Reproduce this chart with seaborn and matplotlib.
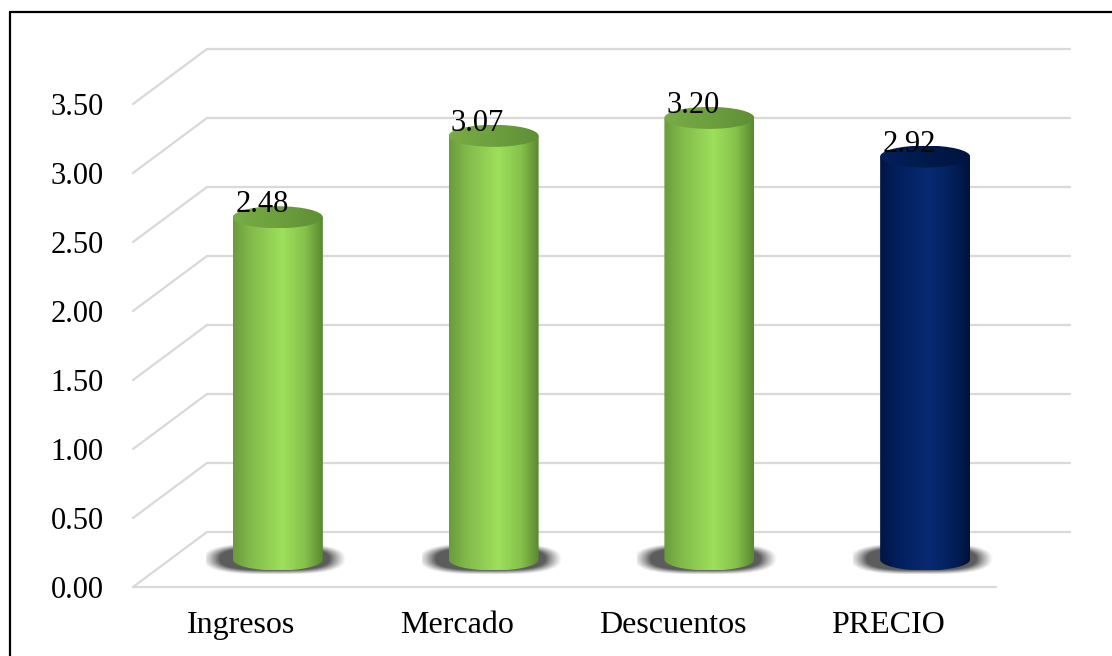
import numpy as np
import matplotlib
matplotlib.use("Agg")
import matplotlib.pyplot as plt
import seaborn as sns
from matplotlib.colors import LinearSegmentedColormap
from matplotlib.patches import PathPatch, Ellipse
from matplotlib.path import Path
from matplotlib.lines import Line2D
from matplotlib.transforms import ScaledTranslation, IdentityTransform

# Data
categories = ["Ingresos", "Mercado", "Descuentos", "PRECIO"]
values = [2.48, 3.07, 3.20, 2.92]
bar_kind = ["dim", "dim", "dim", "total"]
yticks = [0.0, 0.5, 1.0, 1.5, 2.0, 2.5, 3.0, 3.5]

sns.set_theme(style="white")
plt.rcParams["font.family"] = ["Liberation Serif", "DejaVu Serif"]

DPI = 100
fig = plt.figure(figsize=(11.12, 6.56), dpi=DPI)
fig.patch.set_facecolor("white")
ax = fig.add_axes([133 / 1112, 69 / 656, 863 / 1112, 483 / 656])

sns.barplot(x=categories, y=values, width=0.417, color="#92d050", ax=ax,
            errorbar=None)
ax.set_xlim(-0.5, len(categories) - 0.5)
ax.set_ylim(0, 3.5)
ax.set_yticks(yticks)
ax.set_yticklabels([f"{t:.2f}" for t in yticks])
ax.set_xlabel("")
ax.set_ylabel("")
for s in ax.spines.values():
    s.set_visible(False)
ax.set_facecolor("none")
ax.tick_params(axis="both", length=0, colors="black")
ax.tick_params(axis="y", pad=21, labelsize=22)
ax.tick_params(axis="x", pad=17, labelsize=23)
ax.grid(False)

grid_c = "#d9d9d9"
grid_lw = 1.6
# depth offsets (inches): back wall and the middle plane where cylinders stand
back = ScaledTranslation(0.74, 0.55, fig.dpi_scale_trans)
mid = ScaledTranslation(0.37, 0.275, fig.dpi_scale_trans)

# back-wall gridlines
for t in yticks:
    ax.plot([0, 1], [t, t], transform=ax.get_yaxis_transform() + back,
            color=grid_c, lw=grid_lw, clip_on=False, zorder=0)
# front floor edge
ax.plot([0, 1], [0, 0], transform=ax.get_yaxis_transform(),
        color=grid_c, lw=grid_lw, clip_on=False, zorder=0)
# side-wall diagonals
x0 = ax.get_xlim()[0]
for t in yticks:
    p0 = ax.transData.transform((x0, t))
    p1 = p0 + np.array([0.74, 0.55]) * DPI
    fig.add_artist(Line2D([p0[0], p1[0]], [p0[1], p1[1]],
                          transform=IdentityTransform(), color=grid_c,
                          lw=grid_lw, zorder=0))

green_body = LinearSegmentedColormap.from_list(
    "gb", [(0, "#6a9b3c"), (0.18, "#80b84a"), (0.55, "#9de05b"),
           (0.8, "#86c24c"), (1, "#5a8830")])
green_top = LinearSegmentedColormap.from_list(
    "gt", [(0, "#78ac45"), (0.5, "#6e9f3e"), (1, "#5f8f35")])
blue_body = LinearSegmentedColormap.from_list(
    "bb", [(0, "#001642"), (0.2, "#03205e"), (0.55, "#072a72"),
           (0.8, "#03205c"), (1, "#00123a")])
blue_top = LinearSegmentedColormap.from_list(
    "bt", [(0, "#03205a"), (0.5, "#001a4c"), (1, "#00153f")])
styles = {"dim": (green_body, green_top), "total": (blue_body, blue_top)}

T = ax.transData + mid
px_x = 1 / (ax.transData.transform((1, 0))[0] - ax.transData.transform((0, 0))[0])
px_y = 1 / (ax.transData.transform((0, 1))[1] - ax.transData.transform((0, 0))[1])
e = 11 * px_y  # ellipse half-height in data units

grad = np.linspace(0, 1, 256)[None, :]

# soft floor shadow sprite (rounded, blurred blob)
gx = np.linspace(-1, 1, 240)
gy = np.linspace(-1, 1, 100)
X, Y = np.meshgrid(gx, gy)
r = (np.abs(X + 0.05) ** 3 + np.abs(Y + 0.05) ** 2.5) ** (1 / 2.8)
shadow = np.zeros((100, 240, 4))
shadow[..., :3] = 0.25
shadow[..., 3] = np.clip((1 - r) / 0.25, 0, 1) ** 1.2 * 0.85

patches = list(ax.patches)
for p, kind, v in zip(patches, bar_kind, values):
    p.set_visible(False)
    bx, bw, bh = p.get_x(), p.get_width(), p.get_height()
    xc = bx + bw / 2
    body_cm, top_cm = styles[kind]

    sw, sh = 72 * px_x, 16 * px_y
    ax.imshow(shadow, extent=(xc - sw, xc + sw, -sh + 1 * px_y, sh + 1 * px_y),
              origin="lower", transform=T, aspect="auto", zorder=2,
              clip_on=False, interpolation="bilinear")

    # cylinder body: rectangle plus lower half-ellipse
    th = np.linspace(np.pi, 2 * np.pi, 60)
    bottom = np.column_stack([xc + bw / 2 * np.cos(th), e * np.sin(th)])
    verts = np.vstack([[bx, bh], bottom, [bx + bw, bh], [bx, bh]])
    codes = [Path.MOVETO] + [Path.LINETO] * (len(verts) - 2) + [Path.CLOSEPOLY]
    body = PathPatch(Path(verts, codes), transform=T, facecolor="none",
                     edgecolor="none")
    ax.add_patch(body)
    im = ax.imshow(grad, cmap=body_cm, extent=(bx, bx + bw, -e, bh),
                   transform=T, aspect="auto", zorder=3,
                   interpolation="bilinear")
    im.set_clip_path(body)

    # cylinder top
    top = Ellipse((xc, bh), bw, 2 * e, transform=T, facecolor="none",
                  edgecolor="none")
    ax.add_patch(top)
    im2 = ax.imshow(grad, cmap=top_cm, extent=(bx, bx + bw, bh - e, bh + e),
                    transform=T, aspect="auto", zorder=4,
                    interpolation="bilinear")
    im2.set_clip_path(top)

    # value label
    ax.text(xc, v, f"{v:.2f}", fontsize=22, ha="center", va="baseline",
            color="black", zorder=6, clip_on=False,
            transform=ax.transData + ScaledTranslation(0.21, 0.325,
                                                       fig.dpi_scale_trans))

ax.set_xlim(-0.5, len(categories) - 0.5)
ax.set_ylim(0, 3.5)

# chart frame
fig.add_artist(Line2D([10 / 1112, 1], [1 - 12 / 656, 1 - 12 / 656],
                      transform=fig.transFigure, color="black", lw=1.6))
fig.add_artist(Line2D([10 / 1112, 10 / 1112], [0, 1 - 12 / 656],
                      transform=fig.transFigure, color="black", lw=1.6))

fig.savefig("out.png", dpi=DPI, facecolor="white")
